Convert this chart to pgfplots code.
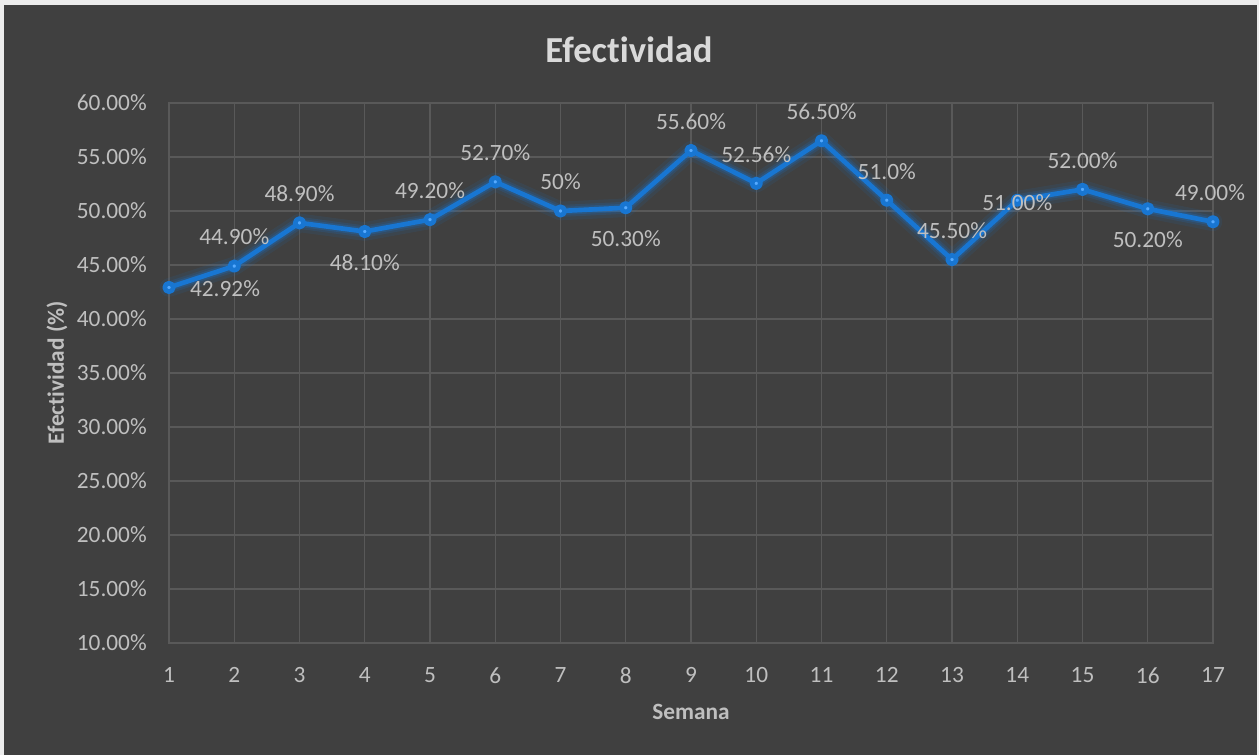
\documentclass[border=0pt]{standalone}
\usepackage{pgfplots}
\pgfplotsset{compat=1.18}
\usepackage{pgfplotstable}
\usepackage{fontspec}
\setmainfont[Ligatures=NoCommon]{Carlito}
\definecolor{bg}{HTML}{404040}
\definecolor{outer}{HTML}{EDEDED}
\definecolor{gridc}{HTML}{595959}
\definecolor{txt}{HTML}{BFBFBF}
\definecolor{ttl}{HTML}{D9D9D9}
\definecolor{lineb}{HTML}{1876D2}
\definecolor{markb}{HTML}{55AAFF}
\pgfplotstableread{
x y lab dx dy
1 42.92 42.92 42 -0.75
2 44.90 44.90 0 21.75
3 48.90 48.90 0 21.75
4 48.10 48.10 0 -23.25
5 49.20 49.20 0 21.75
6 52.70 52.70 0 21.75
7 50.00 50 0 21.75
8 50.30 50.30 0 -23.25
9 55.60 55.60 0 21.75
10 52.56 52.56 0 21.75
11 56.50 56.50 0 21.75
12 51.00 51.0 0 21.75
13 45.50 45.50 0 21.75
14 51.00 51.00 0 -1.5
15 52.00 52.00 0 21.75
16 50.20 50.20 0 -23.25
17 49.00 49.00 -2.25 21.75
}\datatab
\begin{document}
\begin{tikzpicture}[x=0.75pt,y=0.75pt]
\useasboundingbox (0,0) rectangle (1259,755);
\fill[outer] (0,0) rectangle (1259,755);
\fill[bg] (4,0) rectangle (1257,750);
\begin{axis}[
  at={(126.75pt,84pt)}, anchor=south west,
  scale only axis, width=783pt, height=405pt,
  xmin=1, xmax=17, ymin=10, ymax=60,
  xtick={1,...,17}, ytick={10,15,...,60},
  grid=major, grid style={gridc, line width=0.9pt},
  axis line style={gridc, line width=0.9pt},
  major tick length=0pt,
  tick label style={font=\fontsize{17.5}{20}\selectfont, text=txt},
  /pgf/number format/assume math mode=true,
  yticklabel={\pgfmathprintnumber[fixed,fixed zerofill,precision=2]{\tick}\%},
  yticklabel style={inner sep=0pt, xshift=-16.5pt},
  xticklabel style={inner sep=0pt, yshift=-18pt},
  clip=false,
]
\addplot[forget plot, no marks, draw=lineb, opacity=0.10, line width=14pt, line join=round, line cap=round] table[x=x,y=y] {\datatab};
\addplot[forget plot, no marks, draw=lineb, opacity=0.16, line width=9pt, line join=round, line cap=round] table[x=x,y=y] {\datatab};
\addplot[forget plot, no marks, draw=lineb, opacity=0.25, line width=6pt, line join=round, line cap=round] table[x=x,y=y] {\datatab};
\addplot[
  draw=lineb, line width=3.5pt, line join=round,
  mark=*, mark size=3.2pt, mark options={draw=none, fill=markb},
  point meta=explicit symbolic,
  visualization depends on={\thisrow{dx} \as \dx},
  visualization depends on={\thisrow{dy} \as \dy},
  nodes near coords={\pgfplotspointmeta\%},
  every node near coord/.append style={anchor=center, inner sep=0pt, font=\fontsize{17.5}{20}\selectfont, text=txt, xshift=\dx pt, yshift=\dy pt},
] table[x=x,y=y,meta=lab] {\datatab};
\end{axis}
\node[text=ttl, font=\fontsize{27.5}{32}\selectfont\bfseries] at (629,705) {Efectividad};
\node[text=txt, font=\fontsize{17.5}{20}\selectfont\bfseries, rotate=90] at (57,382) {Efectividad (\%)};
\node[text=txt, font=\fontsize{17.5}{20}\selectfont\bfseries] at (691,43) {Semana};
\end{tikzpicture}
\end{document}
